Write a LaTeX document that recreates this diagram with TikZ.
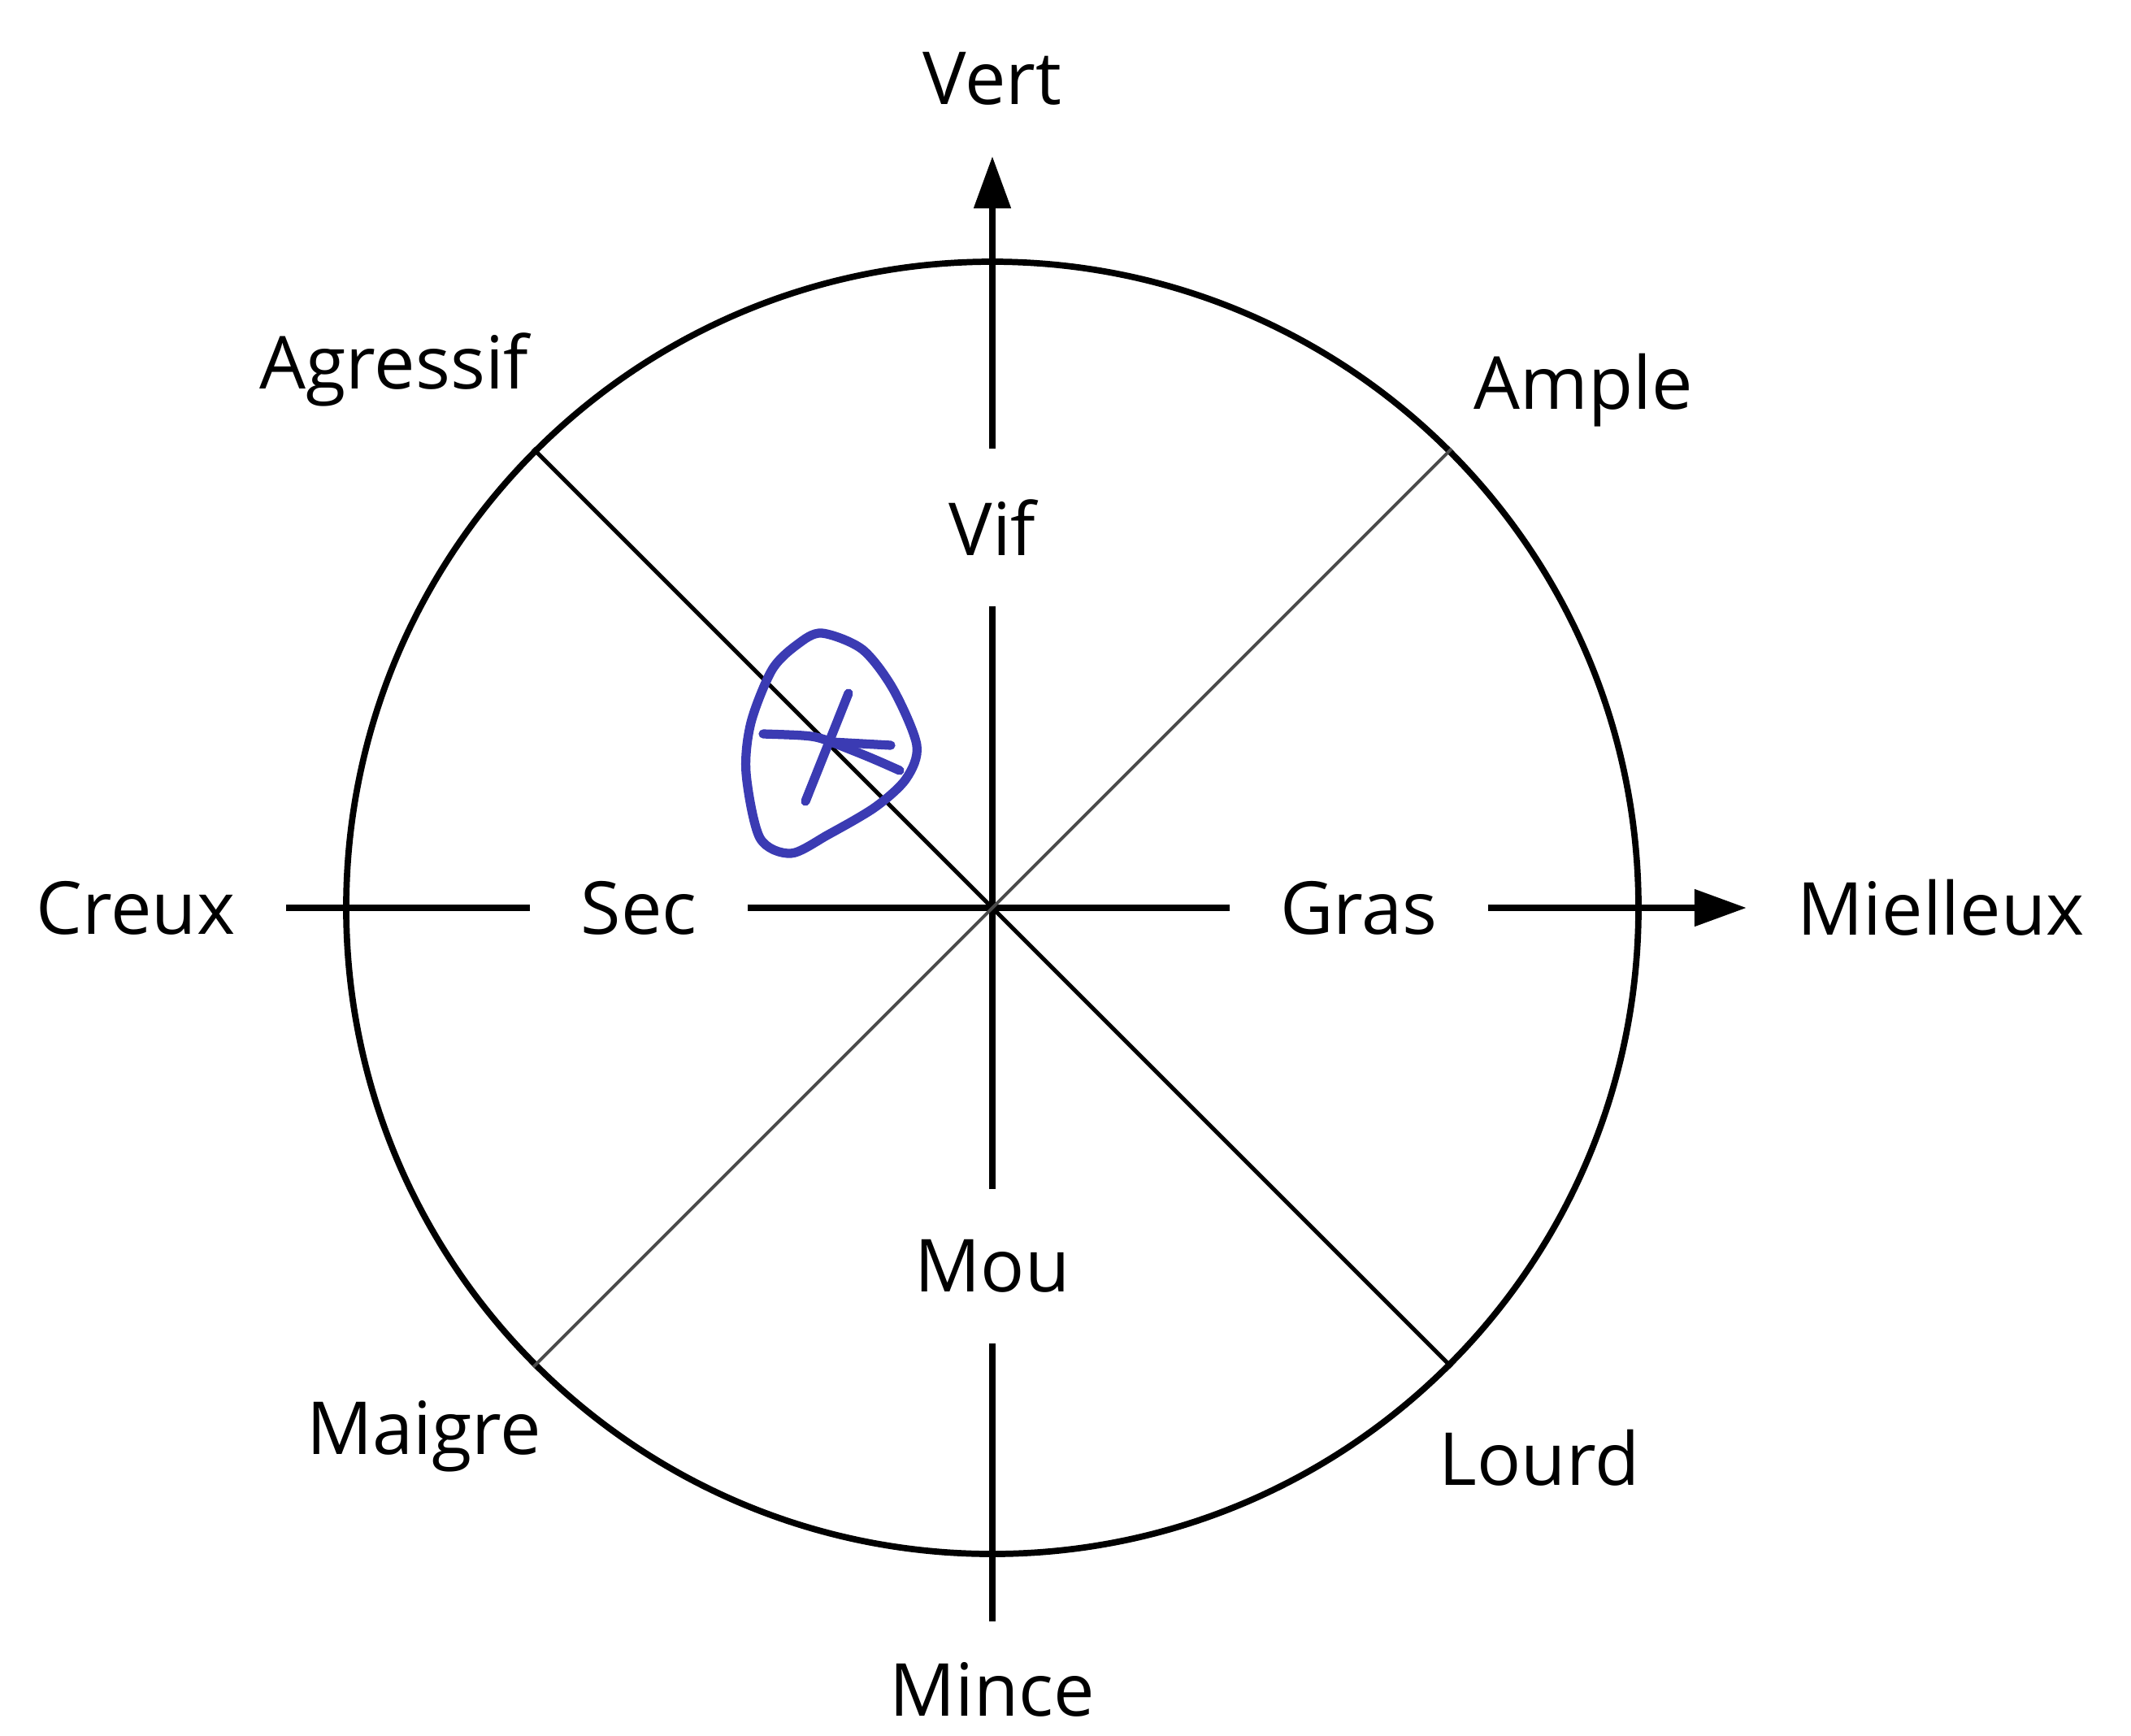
\documentclass[tikz,border=0pt]{standalone}
\usepackage{fontspec}
\setmainfont{Open Sans}
\usetikzlibrary{arrows.meta}
\definecolor{ink}{HTML}{3B3BB3}
\definecolor{halftone}{HTML}{4A4A4A}

\begin{document}
\begin{tikzpicture}[
  font=\fontsize{25.6pt}{30pt}\selectfont,
  lbl/.style={inner sep=0.62cm},
  axis/.style={line width=2.3pt},
  diag/.style={line width=1.5pt},
  tip/.style={-{Triangle[length=0.64cm,width=0.44cm]}},
  pen/.style={ink, line width=3.2pt, line cap=round, line join=round},
]
\useasboundingbox (-12.21,-10.18) rectangle (14.01,11.17);

\node[circle, draw, line width=2.2pt, minimum size=15.9cm, inner sep=0pt] (disc) at (0,0) {};

% vertical axis
\node[lbl] (vert) at (0,10.2) {Vert};
\node[lbl] (vif) at (0,4.68) {Vif};
\node[lbl] (mou) at (0,-4.41) {Mou};
\node[lbl, inner sep=0.5cm] (mince) at (0,-9.62) {Mince};

% horizontal axis
\node[lbl] (creux) at (-10.54,0) {Creux};
\node[lbl] (sec) at (-4.35,0) {Sec};
\node[lbl] (gras) at (4.51,0) {Gras};
\node[lbl] (mielleux) at (11.67,0) {Mielleux};

% diagonals
\node (agressif) at (-7.36,6.62) {Agressif};
\node (ample) at (7.27,6.37) {Ample};
\node (maigre) at (-6.99,-6.5) {Maigre};
\node (lourd) at (6.73,-6.77) {Lourd};

\draw[axis] (creux) -- (sec);
\draw[axis] (sec) -- (gras);
\draw[axis, tip] (gras) -- (mielleux);
\draw[axis] (mince) -- (mou);
\draw[axis] (mou) -- (vif);
\draw[axis, tip] (vif) -- (vert);

\draw[diag] (disc.135) -- (disc.-45);
\draw[diag, halftone, line width=1.1pt] (disc.45) -- (disc.-135);

% hand-drawn mark
\draw[pen] plot[smooth cycle] coordinates {(-2.10,3.38) (-1.60,3.18) (-1.22,2.69) (-0.93,2.00) (-1.06,1.59) (-1.44,1.24) (-2.02,0.90) (-2.48,0.67) (-2.86,0.86) (-3.03,1.66) (-2.97,2.28) (-2.71,2.93) (-2.40,3.24)};
\draw[pen] (-1.77,2.64) -- (-2.30,1.31);
\draw[pen] (-2.82,2.14) .. controls (-2.2,2.12) .. (-1.98,2.04) -- (-1.25,2.00);
\draw[pen] (-1.98,2.04) .. controls (-1.5,1.85) .. (-1.14,1.69);

\end{tikzpicture}
\end{document}
